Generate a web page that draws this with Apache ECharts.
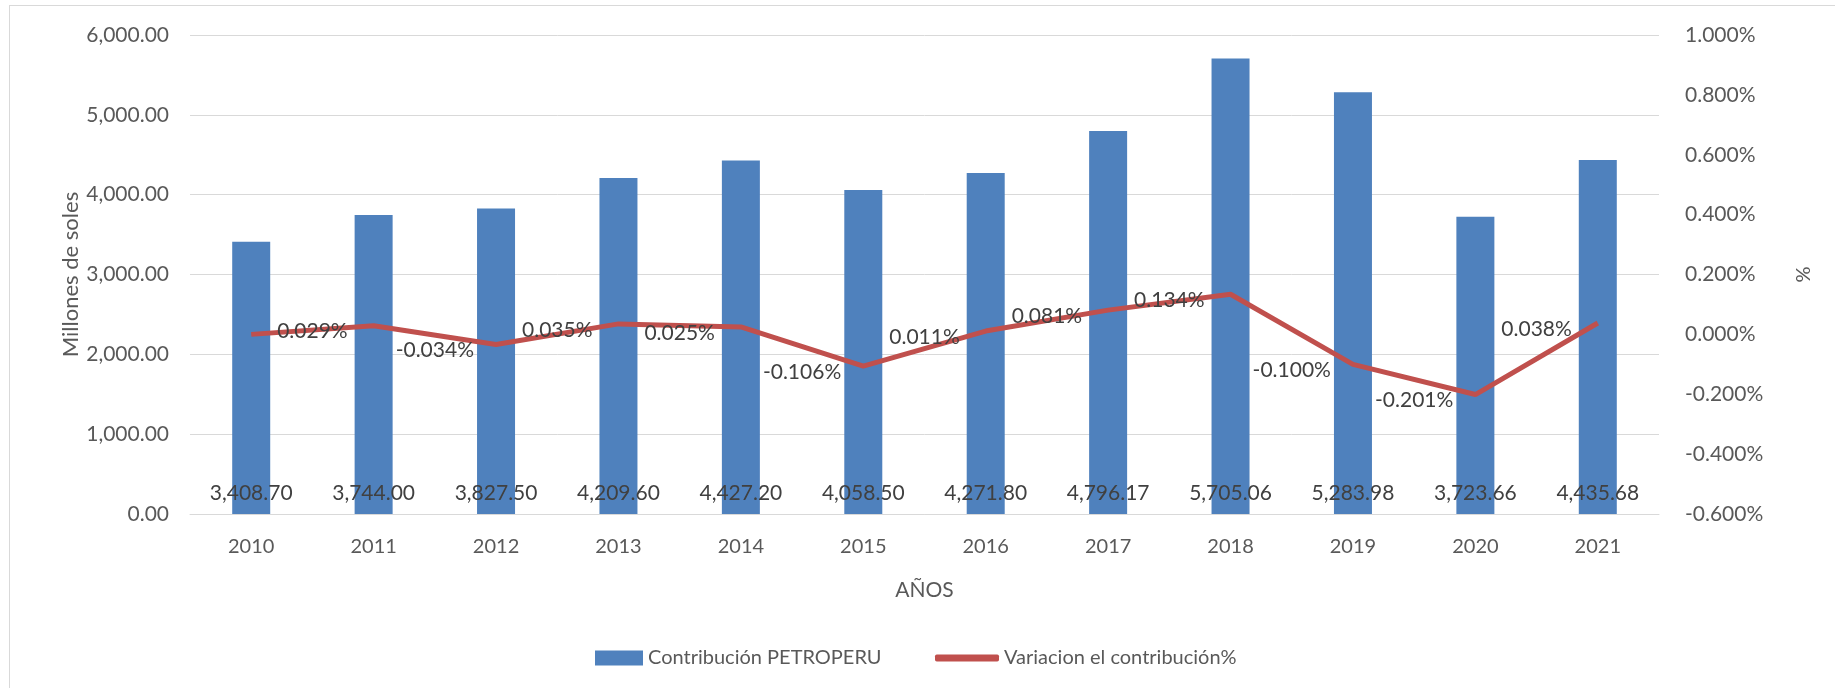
<!DOCTYPE html>
<html>
<head>
<meta charset="utf-8">
<script src="https://cdn.jsdelivr.net/npm/echarts@6/dist/echarts.min.js"></script>
<style>
  html, body { margin: 0; padding: 0; background: #fff; }
  #main { position: absolute; left: 0; top: 0; width: 1835px; height: 688px; }
  #frame { position: absolute; left: 9px; top: 5px; width: 1840px; height: 700px; border: 1px solid #d9d9d9; pointer-events: none; }
</style>
</head>
<body>
<div id="main"></div>
<div id="frame"></div>
<script>
// años
var years = ['2010', '2011', '2012', '2013', '2014', '2015', '2016', '2017', '2018', '2019', '2020', '2021'];
// contribucion PETROPERU (millones de soles)
var contribucion = [3408.70, 3744.00, 3827.50, 4209.60, 4427.20, 4058.50, 4271.80, 4796.17, 5705.06, 5283.98, 3723.66, 4435.68];
// variacion en %
var variacion = [0, 0.029, -0.034, 0.035, 0.025, -0.106, 0.011, 0.081, 0.134, -0.100, -0.201, 0.038];

var FONT = 'Lato';
var TXT = '#595959';

function fmtMiles(v) {
    return Number(v).toLocaleString('en-US', { minimumFractionDigits: 2, maximumFractionDigits: 2 });
}

var myChart = echarts.init(document.getElementById('main'));

// label de la linea va a la izquierda, a media categoria
var gridLeft = 190, gridRight = 176;
var halfCat = (1835 - gridLeft - gridRight) / years.length / 2;

var lineData = variacion.map(function (v, i) {
    if (i === 0) {
        return { value: v, label: { show: false } };
    }
    return v;
});

var option = {
    textStyle: { fontFamily: FONT },
    grid: { left: gridLeft, right: gridRight, top: 35, bottom: 174 },
    legend: [{
        left: 590,
        top: 643,
        itemWidth: 48,
        itemHeight: 15,
        textStyle: { fontSize: 20, color: TXT, fontFamily: FONT },
        data: [{ name: 'Contribución PETROPERU', icon: 'rect' }]
    }, {
        left: 930,
        top: 643,
        itemWidth: 64,
        itemHeight: 7,
        textStyle: { fontSize: 20, color: TXT, fontFamily: FONT },
        data: [{ name: 'Variacion el contribución%', icon: 'roundRect' }]
    }],
    xAxis: {
        type: 'category',
        data: years,
        name: 'AÑOS',
        nameLocation: 'middle',
        nameGap: 66,
        nameMoveOverlap: false,
        nameTextStyle: { fontSize: 21, color: TXT },
        axisLine: { lineStyle: { color: '#d9d9d9', width: 1 } },
        axisTick: { show: false },
        axisLabel: { fontSize: 20, color: TXT, margin: 23 }
    },
    yAxis: [{
        type: 'value',
        min: 0,
        max: 6000,
        interval: 1000,
        name: 'Millones de soles',
        nameLocation: 'middle',
        nameGap: 108,
        nameMoveOverlap: false,
        nameTextStyle: { fontSize: 22, color: TXT },
        axisLine: { show: false },
        axisTick: { show: false },
        axisLabel: { fontSize: 21, color: TXT, margin: 21, formatter: fmtMiles },
        splitLine: { lineStyle: { color: '#d9d9d9', width: 1 } }
    }, {
        type: 'value',
        min: -0.6,
        max: 1.0,
        interval: 0.2,
        name: '%',
        nameLocation: 'middle',
        nameGap: 135,
        nameMoveOverlap: false,
        nameTextStyle: { fontSize: 20, color: TXT },
        axisLine: { show: false },
        axisTick: { show: false },
        axisLabel: {
            fontSize: 21, color: TXT, margin: 26,
            formatter: function (v) { return v.toFixed(3) + '%'; }
        },
        splitLine: { show: false }
    }],
    series: [{
        name: 'Contribución PETROPERU',
        type: 'bar',
        barWidth: 38,
        data: contribucion,
        itemStyle: { color: '#4f81bd' },
        label: {
            show: true,
            position: 'insideBottom',
            distance: 10,
            fontSize: 21,
            color: '#404040',
            formatter: function (p) { return fmtMiles(p.value); }
        }
    }, {
        name: 'Variacion el contribución%',
        type: 'line',
        yAxisIndex: 1,
        data: lineData,
        symbol: 'circle',
        symbolSize: 0.1,
        showSymbol: true,
        lineStyle: { color: '#c0504d', width: 5 },
        itemStyle: { color: '#c0504d' },
        label: {
            show: true,
            position: 'inside',
            offset: [-halfCat, 6],
            fontSize: 21,
            color: '#404040',
            formatter: function (p) { return p.value.toFixed(3) + '%'; }
        }
    }]
};

myChart.setOption(option);
</script>
</body>
</html>
